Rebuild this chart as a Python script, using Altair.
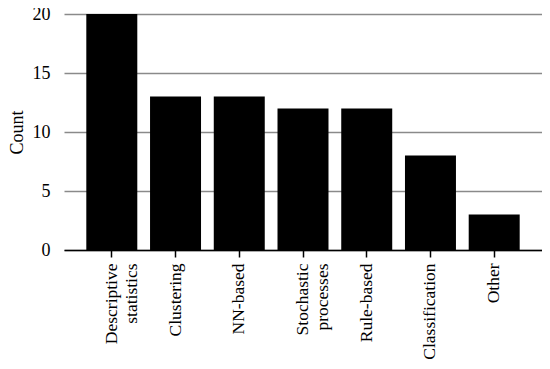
import altair as alt
import pandas as pd

categories = ["Descriptive statistics", "Clustering", "NN-based", "Stochastic processes",
              "Rule-based", "Classification", "Other"]
counts = [20, 13, 13, 12, 12, 8, 3]

df = pd.DataFrame({"category": categories, "count": counts})

FONT = "Liberation Serif"

chart = alt.Chart(df).mark_bar(color="black").encode(
    x=alt.X("category:N", sort=categories, title=None,
            scale=alt.Scale(paddingInner=0.2, paddingOuter=0.35),
            axis=alt.Axis(labelAngle=-90, labelAlign="right", labelBaseline="middle",
                          labelExpr="split(datum.label, ' ')", labelLineHeight=20,
                          labelFont=FONT, labelFontSize=17.5, labelColor="black",
                          labelPadding=6, tickSize=7, tickColor="black", tickWidth=1.5,
                          domainColor="black", domainWidth=1.5, grid=False)),
    y=alt.Y("count:Q", title="Count",
            scale=alt.Scale(domain=[0, 20], nice=False),
            axis=alt.Axis(values=[0, 5, 10, 15, 20], labelFont=FONT, labelFontSize=18,
                          labelColor="black", labelPadding=14, ticks=False, domain=False,
                          grid=True, gridColor="#8a8a8a", gridWidth=1.5,
                          titleFont=FONT, titleFontSize=18, titleFontWeight="normal",
                          titleColor="black", titleX=-47, titleY=118,
                          titleAngle=270, titleAlign="center", titleBaseline="middle")),
).properties(
    width=478, height=236,
    autosize=alt.AutoSizeParams(type="none"),
    padding={"left": 56, "top": 6, "right": 0, "bottom": 111},
).configure_view(stroke=None)

chart.save("out.html", embed_options={"renderer": "svg", "actions": False})
